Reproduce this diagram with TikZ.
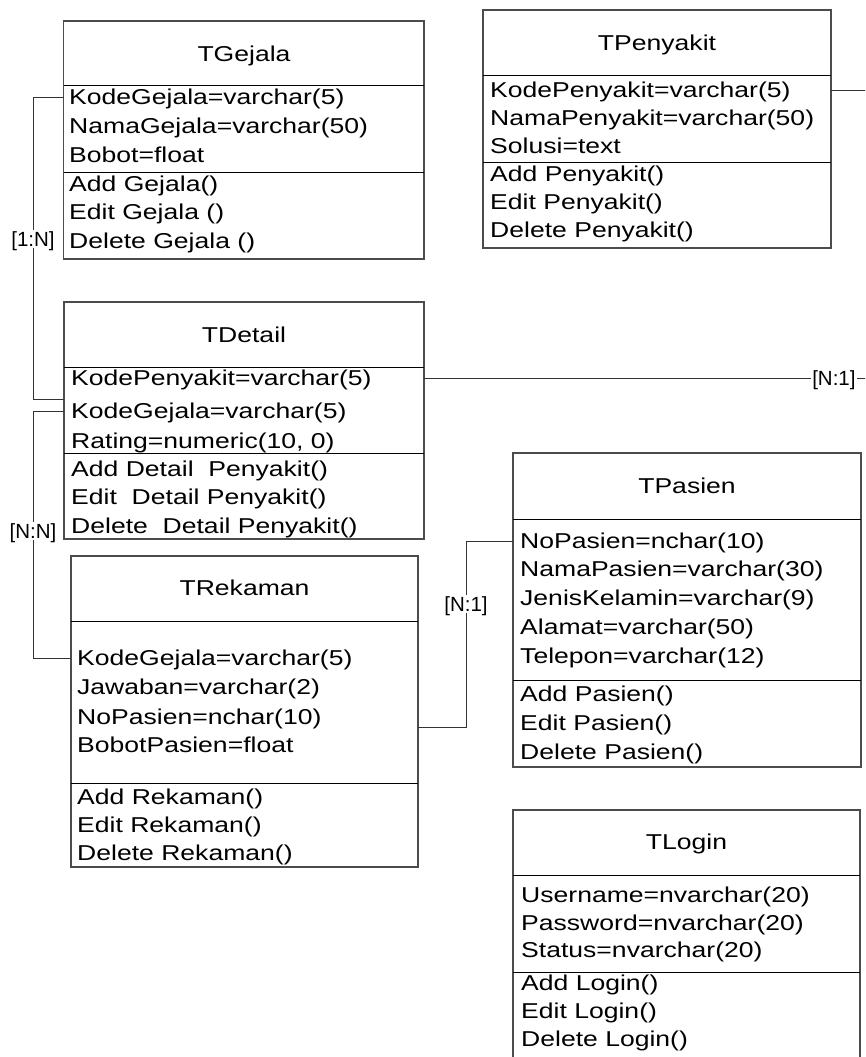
\documentclass[tikz,border=0pt]{standalone}
\usepackage{fontspec}
\newfontfamily\boxfont[FakeStretch=1.235]{Liberation Sans}
\newfontfamily\tagfont{Liberation Sans}
\newcommand\boxtext{\boxfont\fontsize{21.5}{24}\selectfont}
\newcommand\cardtext{\tagfont\fontsize{20.5}{24}\selectfont}
\tikzset{
  tbl/.style={draw=black!70, line width=1.2pt, anchor=north west, inner sep=0pt, outer sep=0pt},
  sep/.style={draw=black, line width=1pt},
  ttl/.style={font=\boxtext, inner sep=0pt, text height=15.4pt, text depth=0pt},
  fld/.style={font=\boxtext, anchor=west, inner sep=0pt, text height=15.4pt, text depth=0pt},
  link/.style={draw=black!80, line width=1pt},
  card/.style={font=\cardtext, fill=white, inner sep=1.5pt, text height=14.7pt, text depth=0pt}
}
\begin{document}
\begin{tikzpicture}[x=1pt, y=-1pt]
\useasboundingbox (0,0) rectangle (865,1057);
\clip (0,0) rectangle (865,1057);

% ---------- TGejala ----------
\node[tbl, minimum width=360.5pt, minimum height=238pt] (gejala) at (63.5,21) {};
\draw[sep] (63.5,85) -- (424,85);
\draw[sep] (63.5,172) -- (424,172);
\node[ttl] (gT) at (244,54) {TGejala};
\node[fld] (gKode) at (69,97)  {KodeGejala=varchar(5)};
\node[fld] (gNama) at (69,126) {NamaGejala=varchar(50)};
\node[fld] (gBob)  at (69,155) {Bobot=float};
\node[fld] (gAdd)  at (69,184) {Add Gejala()};
\node[fld] (gEdit) at (69,212) {Edit Gejala ()};
\node[fld] (gDel)  at (69,241) {Delete Gejala ()};

% ---------- TPenyakit ----------
\node[tbl, minimum width=348pt, minimum height=238pt] (penyakit) at (483,10) {};
\draw[sep] (483,75) -- (831,75);
\draw[sep] (483,162) -- (831,162);
\node[ttl] (pT) at (657,43) {TPenyakit};
\node[fld] (pKode) at (490,90)  {KodePenyakit=varchar(5)};
\node[fld] (pNama) at (490,118) {NamaPenyakit=varchar(50)};
\node[fld] (pSol)  at (490,146) {Solusi=text};
\node[fld] (pAdd)  at (490,174) {Add Penyakit()};
\node[fld] (pEdit) at (490,202) {Edit Penyakit()};
\node[fld] (pDel)  at (490,230) {Delete Penyakit()};

% ---------- TDetail ----------
\node[tbl, minimum width=360pt, minimum height=237pt] (detail) at (64,302) {};
\draw[sep] (64,367) -- (424,367);
\draw[sep] (64,453) -- (424,453);
\node[ttl] (dT) at (244,335) {TDetail};
\node[fld] (dKP)   at (71,378) {KodePenyakit=varchar(5)};
\node[fld] (dKG)   at (71,411) {KodeGejala=varchar(5)};
\node[fld] (dRat)  at (71,441) {Rating=numeric(10, 0)};
\node[fld] (dAdd)  at (71,469) {Add Detail\ \ Penyakit()};
\node[fld] (dEdit) at (71,497) {Edit\ \ Detail Penyakit()};
\node[fld] (dDel)  at (71,526) {Delete\ \ Detail Penyakit()};
\coordinate (dIn) at (64,399);

% ---------- TRekaman ----------
\node[tbl, minimum width=347pt, minimum height=311pt] (rekaman) at (71,556) {};
\draw[sep] (71,621) -- (418,621);
\draw[sep] (71,783) -- (418,783);
\node[ttl] (rT) at (244.5,588) {TRekaman};
\node[fld] (rKG)   at (77,658) {KodeGejala=varchar(5)};
\node[fld] (rJaw)  at (77,687) {Jawaban=varchar(2)};
\node[fld] (rNo)   at (77,717) {NoPasien=nchar(10)};
\node[fld] (rBob)  at (77,745) {BobotPasien=float};
\node[fld] (rAdd)  at (77,797) {Add Rekaman()};
\node[fld] (rEdit) at (77,825) {Edit Rekaman()};
\node[fld] (rDel)  at (77,853) {Delete Rekaman()};
\coordinate (rOut) at (418,727);

% ---------- TPasien ----------
\node[tbl, minimum width=348pt, minimum height=314pt] (pasien) at (513,453) {};
\draw[sep] (513,519) -- (861,519);
\draw[sep] (513,680) -- (861,680);
\node[ttl] (sT) at (687,486) {TPasien};
\node[fld] (sNo)   at (520,541) {NoPasien=nchar(10)};
\node[fld] (sNama) at (520,569) {NamaPasien=varchar(30)};
\node[fld] (sJK)   at (520,598) {JenisKelamin=varchar(9)};
\node[fld] (sAl)   at (520,627) {Alamat=varchar(50)};
\node[fld] (sTel)  at (520,656) {Telepon=varchar(12)};
\node[fld] (sAdd)  at (520,694) {Add Pasien()};
\node[fld] (sEdit) at (520,723) {Edit Pasien()};
\node[fld] (sDel)  at (520,752) {Delete Pasien()};

% ---------- TLogin ----------
\node[tbl, minimum width=347pt, minimum height=270pt] (login) at (513,810) {};
\draw[sep] (513,875) -- (860,875);
\draw[sep] (513,972) -- (860,972);
\node[ttl] (lT) at (686.5,842) {TLogin};
\node[fld] (lUser) at (521,895)  {Username=nvarchar(20)};
\node[fld] (lPass) at (521,923)  {Password=nvarchar(20)};
\node[fld] (lStat) at (521,950)  {Status=nvarchar(20)};
\node[fld] (lAdd)  at (521,983)  {Add Login()};
\node[fld] (lEdit) at (521,1011) {Edit Login()};
\node[fld] (lDel)  at (521,1039) {Delete Login()};

% ---------- relations ----------
\coordinate (busL) at (33,0);
\coordinate (busR) at (872,0);
\coordinate (busM) at (466,0);

% TGejala -- TDetail
\draw[link] (gKode -| gejala.west) -- (gKode -| busL)
  -- node[card, pos=0.47] (c1) {[1:N]} (dIn -| busL) -- (dIn);

% TDetail -- TRekaman
\draw[link] (dKG -| detail.west) -- (dKG -| busL)
  -- node[card, pos=0.486] (c2) {[N:N]} (rKG -| busL) -- (rKG -| rekaman.west);

% TDetail -- TPenyakit
\draw[link] (pKode -| penyakit.east) -- (pKode -| busR) -- (dKP -| busR)
  -- node[card, pos=0.085] (c3) {[N:1]} (dKP -| detail.east);

% TRekaman -- TPasien
\draw[link] (rOut) -- (rOut -| busM)
  -- node[card, pos=0.66] (c4) {[N:1]} (sNo -| busM) -- (sNo -| pasien.west);
\end{tikzpicture}
\end{document}
